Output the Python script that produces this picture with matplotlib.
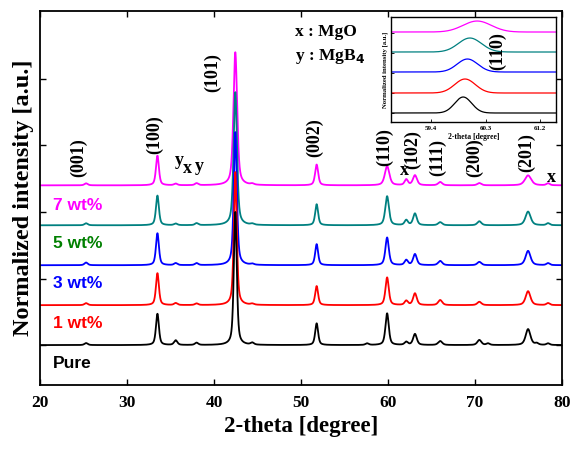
import numpy as np
import matplotlib
matplotlib.use("Agg")
import matplotlib.pyplot as plt

# ---------------- data ----------------
samples = ["Pure", "1 wt%", "3 wt%", "5 wt%", "7 wt%"]
line_colors = ["#000000", "#FF0000", "#0000FF", "#008080", "#FF00FF"]
label_colors = ["#000000", "#FF0000", "#0000FF", "#008000", "#FF00FF"]
offsets = [0.0, 0.3, 0.6, 0.9, 1.2]

# peak positions (2-theta, degree)
peak_pos = [25.3, 33.5, 35.6, 38.0, 42.45, 44.4, 51.8, 57.6, 59.9, 62.1,
            63.1, 66.0, 70.5, 71.5, 76.1, 77.1, 78.4]
# relative peak heights ((101) = 1)
heights = {
    "Pure":  [0.015, 0.235, 0.035, 0.017, 1.0, 0.015, 0.163, 0.012, 0.238, 0.023,
              0.083, 0.030, 0.038, 0.012, 0.120, 0.012, 0.012],
    "1 wt%": [0.015, 0.240, 0.015, 0.012, 1.0, 0.008, 0.143, 0.0, 0.208, 0.032,
              0.088, 0.038, 0.025, 0.0, 0.105, 0.0, 0.015],
    "3 wt%": [0.020, 0.240, 0.015, 0.015, 1.0, 0.008, 0.158, 0.0, 0.208, 0.038,
              0.083, 0.032, 0.025, 0.0, 0.108, 0.0, 0.015],
    "5 wt%": [0.015, 0.223, 0.012, 0.015, 1.0, 0.008, 0.158, 0.0, 0.218, 0.038,
              0.088, 0.023, 0.030, 0.0, 0.103, 0.0, 0.015],
    "7 wt%": [0.015, 0.223, 0.012, 0.015, 1.0, 0.008, 0.156, 0.0, 0.143, 0.043,
              0.075, 0.025, 0.017, 0.0, 0.075, 0.0, 0.015],
}
# peak widths (FWHM, degree)
widths = {
    "Pure":  [0.45, 0.40, 0.45, 0.45, 0.40, 0.45, 0.40, 0.45, 0.45, 0.45, 0.50, 0.55, 0.55, 0.45, 0.65, 0.45, 0.45],
    "1 wt%": [0.45, 0.40, 0.45, 0.45, 0.40, 0.45, 0.40, 0.45, 0.45, 0.45, 0.50, 0.55, 0.55, 0.45, 0.65, 0.45, 0.45],
    "3 wt%": [0.45, 0.40, 0.45, 0.45, 0.42, 0.45, 0.40, 0.45, 0.47, 0.45, 0.50, 0.55, 0.55, 0.45, 0.67, 0.45, 0.45],
    "5 wt%": [0.45, 0.40, 0.45, 0.45, 0.46, 0.45, 0.40, 0.45, 0.50, 0.45, 0.50, 0.55, 0.55, 0.45, 0.70, 0.45, 0.45],
    "7 wt%": [0.45, 0.40, 0.45, 0.45, 0.50, 0.45, 0.42, 0.45, 0.62, 0.45, 0.55, 0.55, 0.55, 0.45, 0.85, 0.45, 0.45],
}

# peak index labels: (text, 2-theta, height)
hkl_labels = ["(001)", "(100)", "(101)", "(002)", "(110)", "(102)", "(111)", "(200)", "(201)"]
hkl_x = [24.4, 33.2, 39.85, 51.55, 59.6, 62.8, 65.7, 69.9, 75.9]
hkl_y = [1.41, 1.58, 2.05, 1.56, 1.49, 1.47, 1.41, 1.41, 1.45]
phase_labels = ["y", "x", "y", "x", "x"]
phase_x = [36.0, 36.9, 38.3, 61.9, 78.8]
phase_y = [1.39, 1.33, 1.34, 1.31, 1.26]
sample_label_y = [-0.135, 0.16, 0.46, 0.76, 1.05]

# inset: (110) region
inset_center = [59.93, 59.96, 60.00, 60.04, 60.16]
inset_height = [0.80, 0.70, 0.65, 0.70, 0.55]
inset_fwhm = [0.33, 0.40, 0.40, 0.45, 0.55]
inset_offset = [0.0, 1.0, 2.05, 3.05, 4.05]

# ---------------- helpers ----------------
def pseudo_voigt(x, c, h, w, eta=0.55):
    g = np.exp(-4 * np.log(2) * ((x - c) / w) ** 2)
    l = 1.0 / (1 + 4 * ((x - c) / w) ** 2)
    return h * (eta * l + (1 - eta) * g)

x = np.linspace(20, 80, 6001)

serif = "Liberation Serif"
sans = "Liberation Sans"

fig = plt.figure(figsize=(5.72, 4.49), dpi=100)
ax = fig.add_axes([0.0699, 0.1425, 0.9126, 0.833])

order = [4, 3, 2, 1, 0]
for i in order:
    s = samples[i]
    y = np.zeros_like(x)
    for c, h, w in zip(peak_pos, heights[s], widths[s]):
        if h > 0:
            y += pseudo_voigt(x, c, h, w)
    ax.plot(x, y + offsets[i], color=line_colors[i], lw=1.3)

ax.set_xlim(20, 80)
ax.set_ylim(-0.30, 2.51)
ax.set_xticks(np.arange(20, 81, 10))
ax.set_yticks([0, 0.5, 1.0, 1.5, 2.0])
ax.tick_params(direction="in", top=True, right=True, length=4, width=1,
               labelleft=False, labelsize=12.5, pad=7)
for lab in ax.get_xticklabels():
    lab.set_fontfamily(serif)
    lab.set_fontweight("bold")
for sp in ax.spines.values():
    sp.set_linewidth(1.3)

ax.set_xlabel("2-theta [degree]", fontsize=16.5, fontweight="bold", family=serif, labelpad=4)
ax.set_ylabel("Normalized intensity [a.u.]", fontsize=17.5, fontweight="bold", family=serif, labelpad=4)

for t, xx, yy in zip(hkl_labels, hkl_x, hkl_y):
    ax.text(xx, yy, t, rotation=90, ha="center", va="center", fontsize=13,
            fontweight="bold", family=serif)
for t, xx, yy in zip(phase_labels, phase_x, phase_y):
    ax.text(xx, yy, t, ha="center", va="center", fontsize=13, fontweight="bold", family=serif)
for i, s in enumerate(samples):
    ax.text(21.5, sample_label_y[i], s, ha="left", va="center", fontsize=12.5,
            fontweight="bold", family=sans, color=label_colors[i])

ax.text(49.3, 2.35, "x : MgO", ha="left", va="center", fontsize=12.5, fontweight="bold", family=serif)
ax.text(49.3, 2.17, "y : MgB$_\\mathbf{4}$", ha="left", va="center", fontsize=12.5,
        fontweight="bold", family=serif)

# ---------------- inset ----------------
ins = fig.add_axes([0.6836, 0.7283, 0.2884, 0.2338])
xi = np.linspace(58.7, 61.5, 600)
for i in order:
    yi = np.exp(-4 * np.log(2) * ((xi - inset_center[i]) / inset_fwhm[i]) ** 2) * inset_height[i]
    ins.plot(xi, yi + inset_offset[i], color=line_colors[i], lw=0.9)
ins.set_xlim(58.74, 61.46)
ins.set_ylim(-0.45, 4.8)
ins.set_xticks([59.4, 60.3, 61.2])
ins.set_yticks([0, 1, 2, 3, 4])
ins.tick_params(direction="in", length=2, width=0.6, labelleft=False, labelsize=5, pad=3)
for lab in ins.get_xticklabels():
    lab.set_fontfamily(serif)
    lab.set_fontweight("bold")
for sp in ins.spines.values():
    sp.set_linewidth(1.0)
ins.set_xlabel("2-theta [degree]", fontsize=5.5, fontweight="bold", family=serif, labelpad=1)
ins.set_ylabel("Normalized intensity [a.u.]", fontsize=4.8, fontweight="bold", family=serif, labelpad=2)
ins.text(60.5, 3.1, "(110)", rotation=90, ha="center", va="center", fontsize=13,
         fontweight="bold", family=serif)

fig.savefig("out.png", dpi=100)
